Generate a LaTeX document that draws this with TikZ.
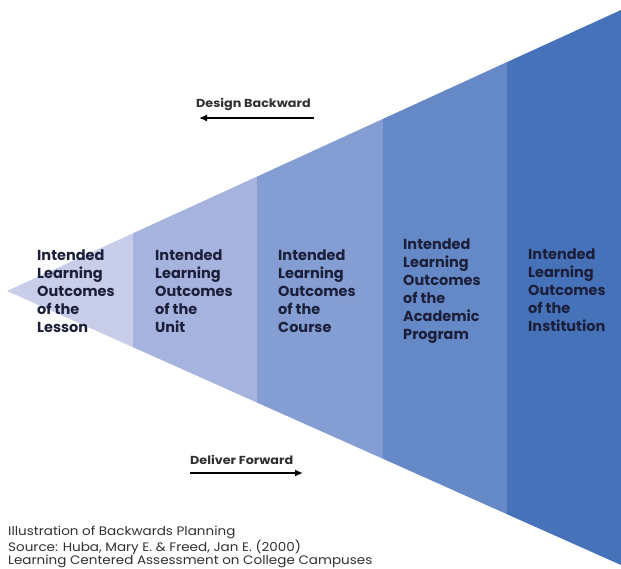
\documentclass[tikz,border=0pt]{standalone}
\usepackage{fontspec}
\setmainfont{Poppins}
\newfontfamily\widefont[FakeStretch=1.1]{Poppins}
\usetikzlibrary{arrows.meta}
\definecolor{bandA}{HTML}{C8CEEA}
\definecolor{bandB}{HTML}{A6B3DE}
\definecolor{bandC}{HTML}{849DD2}
\definecolor{bandD}{HTML}{6588C6}
\definecolor{bandE}{HTML}{4672BA}
\definecolor{navy}{HTML}{1C1F3A}
\definecolor{capgray}{HTML}{303030}
\tikzset{
  band/.style={fill=#1, draw=none},
  outcome/.style={anchor=north west, inner sep=0pt, align=left, text=navy,
    font=\bfseries\fontsize{14.5}{18}\selectfont},
  flowlabel/.style={inner sep=0pt, text=capgray, font=\widefont\bfseries\fontsize{11.6}{13}\selectfont},
  flowarrow/.style={draw=black, line width=1.8pt, -{Latex[length=8pt,width=7pt]}},
  caption/.style={anchor=north west, inner sep=0pt, align=left, text=capgray,
    font=\widefont\fontsize{12.3}{13.2}\selectfont}
}
\begin{document}
\begin{tikzpicture}[x=1pt,y=-1pt]
\useasboundingbox (0,0) rectangle (621,569);
% bands of the wedge
\fill[band=bandA] (7,291) -- (133,233.3) -- (133,347.2) -- cycle;
\fill[band=bandB] (133,233.3) -- (257,176.6) -- (257,402.6) -- (133,347.2) -- cycle;
\fill[band=bandC] (257,176.6) -- (383,118.9) -- (383,458.8) -- (257,402.6) -- cycle;
\fill[band=bandD] (383,118.9) -- (507,62.1) -- (507,514.2) -- (383,458.8) -- cycle;
\fill[band=bandE] (507,62.1) -- (621,10) -- (621,565) -- (507,514.2) -- cycle;
% labels
\node[outcome] (lesson) at (37,250) {Intended\\Learning\\Outcomes\\of the\\Lesson};
\node[outcome] (unit) at (155,250) {Intended\\Learning\\Outcomes\\of the\\Unit};
\node[outcome] (course) at (278,250) {Intended\\Learning\\Outcomes\\of the\\Course};
\node[outcome] (program) at (403,239) {Intended\\Learning\\Outcomes\\of the\\Academic\\Program};
\node[outcome] (inst) at (528,249) {Intended\\Learning\\Outcomes\\of the\\Institution};
% flow arrows
\node[flowlabel, anchor=west] (design) at (196,104) {Design Backward};
\coordinate (dbs) at (314,118);
\coordinate (dbe) at (199,118);
\draw[flowarrow] (dbs) -- (dbe);
\node[flowlabel, anchor=west] (deliver) at (190,460) {Deliver Forward};
\coordinate (dfs) at (190,473);
\coordinate (dfe) at (303,473);
\draw[flowarrow] (dfs) -- (dfe);
% caption
\node[caption] (cap) at (8,526) {Illustration of Backwards Planning\\Source: Huba, Mary E. \& Freed, Jan E. (2000)\\Learning Centered Assessment on College Campuses};
\end{tikzpicture}
\end{document}
